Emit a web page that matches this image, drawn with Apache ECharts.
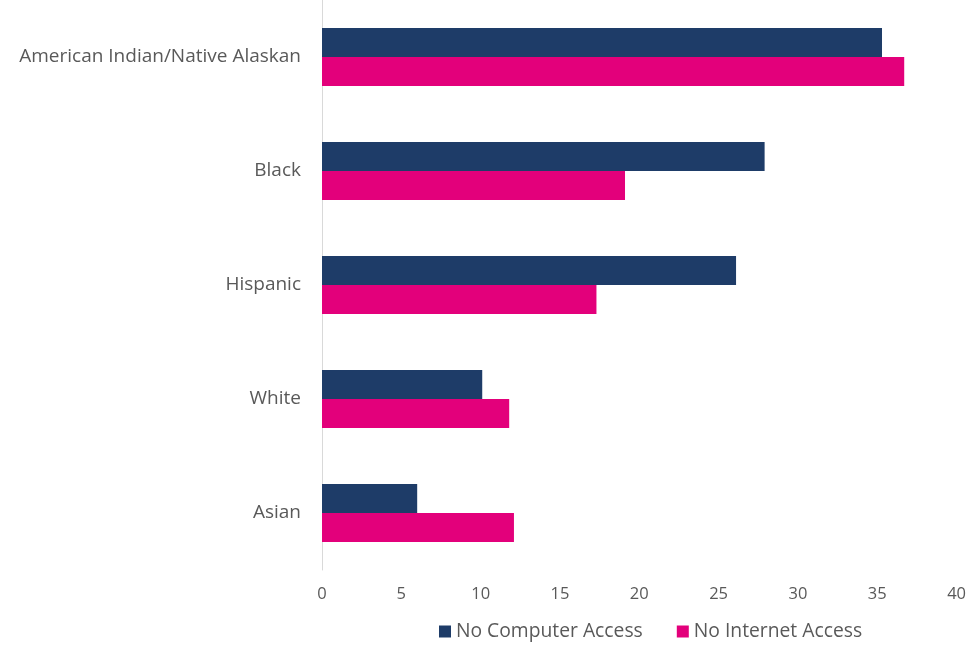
<!DOCTYPE html>
<html>
<head>
<meta charset="utf-8">
<script src="https://cdn.jsdelivr.net/npm/echarts@6/dist/echarts.min.js"></script>
<style>
  html, body { margin: 0; padding: 0; background: #fff; }
  #chart { width: 969px; height: 647px; }
</style>
</head>
<body>
<div id="chart"></div>
<script>
const categories = ["American Indian/Native Alaskan", "Black", "Hispanic", "White", "Asian"];
const noComputer = [35.3, 27.9, 26.1, 10.1, 6.0];
const noInternet = [36.7, 19.1, 17.3, 11.8, 12.1];

const chart = echarts.init(document.getElementById("chart"));

const option = {
  textStyle: {
    fontFamily: "Open Sans",
  },
  grid: {
    left: 322,
    right: 12,
    top: 0,
    bottom: 77,
  },
  legend: {
    bottom: 1,
    left: 434,
    itemWidth: 12,
    itemHeight: 12,
    itemGap: 34,
    icon: "rect",
    textStyle: { fontSize: 19.3, color: "#595959" },
    data: ["No Computer Access", "No Internet Access"],
  },
  xAxis: {
    type: "value",
    min: 0,
    max: 40,
    interval: 5,
    axisLine: { show: false },
    axisTick: { show: false },
    splitLine: { show: false },
    axisLabel: { fontSize: 16.5, color: "#595959", margin: 16 },
  },
  yAxis: {
    type: "category",
    inverse: true,
    data: categories,
    axisLine: { show: true, lineStyle: { color: "#d9d9d9", width: 1 } },
    axisTick: { show: false },
    axisLabel: { fontSize: 19, color: "#595959", margin: 21 },
  },
  series: [
    {
      name: "No Computer Access",
      type: "bar",
      data: noComputer,
      barWidth: 29,
      barGap: "0%",
      itemStyle: { color: "#1e3c68" },
    },
    {
      name: "No Internet Access",
      type: "bar",
      data: noInternet,
      barWidth: 29,
      barGap: "0%",
      itemStyle: { color: "#e3007b" },
    },
  ],
};

chart.setOption(option);
</script>
</body>
</html>
